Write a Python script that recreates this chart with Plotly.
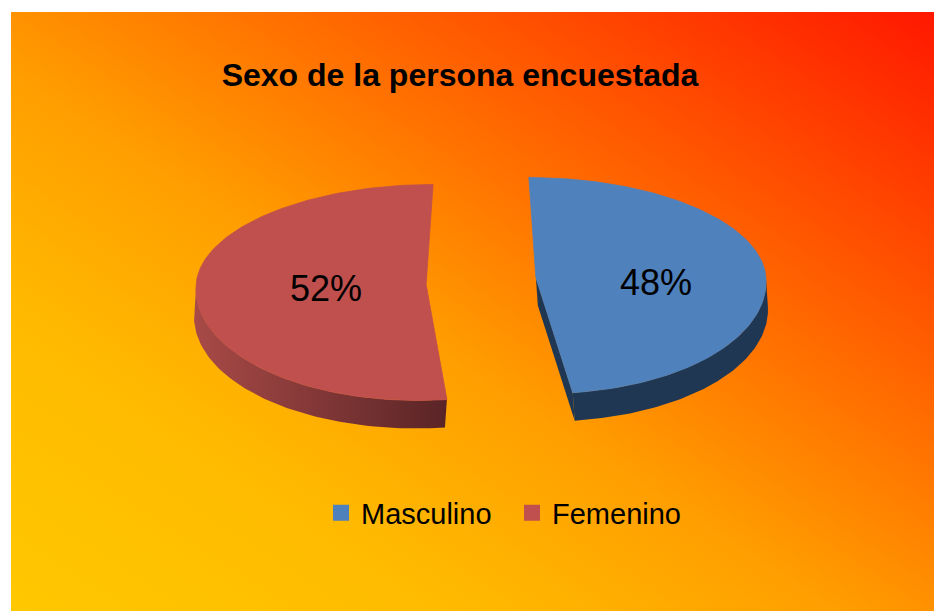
import base64
import numpy as np
import plotly.graph_objects as go

# chart data
categories = ["Masculino", "Femenino"]
shares = [48, 52]
pct_labels = ["48%", "52%"]
title_text = "Sexo de la persona encuestada"

# colours per slice
top_colors = ["#4F81BD", "#C0504D"]
side_colors = [["#1F3752", "#1F3752"], ["#A84A47", "#5A2426"]]

W, H = 934, 611
FONT = "Arial, Liberation Sans, sans-serif"

# 3d pie geometry in page pixels (y grows downwards)
cx, cy = 481, 281
rx = 230
ry_back, ry_front = 100, 116
depth = 28
pull = 55
skew_k = 0.00127
label_k, label_dx, label_dy = 0.48, 10, 8


def proj(px, py, ang):
    # angle in degrees, clockwise from 12 o'clock
    t = np.radians(ang)
    ry = np.where(np.cos(t) > 0, ry_back, ry_front)
    return px + rx * np.sin(t), py - ry * np.cos(t)


def lean(x, y, ox, oy):
    # exploded slices lean outwards a little at the front
    x = np.asarray(x, dtype=float)
    y = np.asarray(y, dtype=float)
    return x + skew_k * (ox - cx) * (y - oy)


# background gradient as an svg image
grad_svg = """<svg xmlns='http://www.w3.org/2000/svg' width='100' height='100' viewBox='0 0 100 100' preserveAspectRatio='none'>
<defs><linearGradient id='g' x1='0' y1='1' x2='1' y2='0'>
<stop offset='0' stop-color='#FFC800'/>
<stop offset='0.25' stop-color='#FFBA00'/>
<stop offset='0.45' stop-color='#FF9E00'/>
<stop offset='1' stop-color='#FF1800'/>
</linearGradient></defs>
<rect x='0' y='0' width='100' height='100' fill='url(#g)'/></svg>"""
grad_uri = "data:image/svg+xml;base64," + base64.b64encode(grad_svg.encode()).decode()

fig = go.Figure()

total = sum(shares)
starts = np.cumsum([0] + shares[:-1]) / total * 360
ends = np.cumsum(shares) / total * 360

sides = []
tops = []
texts = []
for i, (a0, a1) in enumerate(zip(starts, ends)):
    mid = (a0 + a1) / 2
    ox = cx + pull * np.sin(np.radians(mid))
    oy = cy - pull * np.cos(np.radians(mid))

    # outer rim on the front half
    r0, r1 = max(a0, 90), min(a1, 270)
    if r1 > r0:
        arc = np.linspace(r0, r1, 80)
        xs, ys = proj(ox, oy, arc)
        sy = np.concatenate([ys, ys[::-1] + depth, ys[:1]])
        sx = np.concatenate([xs, xs[::-1], xs[:1]])
        sides.append(go.Scatter(
            x=lean(sx, sy, ox, oy), y=sy, mode="lines", fill="toself",
            line=dict(width=0, color=side_colors[i][1]),
            fillgradient=dict(type="horizontal",
                              colorscale=[[0, side_colors[i][0]], [1, side_colors[i][1]]]),
            hoverinfo="skip", showlegend=False))

    # cut face at the end edge, seen when it faces the front
    if 0 < a1 < 180:
        ex, ey = proj(ox, oy, a1)
        fx = [ox, ex, ex, ox, ox]
        fy = [oy, ey, ey + depth, oy + depth, oy]
        sides.append(go.Scatter(
            x=lean(fx, fy, ox, oy), y=fy,
            mode="lines", fill="toself", fillcolor=side_colors[i][1],
            line=dict(width=0, color=side_colors[i][1]),
            hoverinfo="skip", showlegend=False))

    # top face
    arc = np.linspace(a0, a1, 160)
    xs, ys = proj(ox, oy, arc)
    tx = np.concatenate([[ox], xs, [ox]])
    ty = np.concatenate([[oy], ys, [oy]])
    tops.append(go.Scatter(
        x=lean(tx, ty, ox, oy), y=ty,
        mode="lines", fill="toself", fillcolor=top_colors[i],
        line=dict(width=0.8, color=top_colors[i]),
        hoverinfo="skip", showlegend=False))

    texts.append((ox + label_k * rx * np.sin(np.radians(mid)) + label_dx,
                  oy + label_dy, pct_labels[i]))

for tr in sides + tops:
    fig.add_trace(tr)

fig.add_trace(go.Scatter(
    x=[t[0] for t in texts], y=[t[1] for t in texts], text=[t[2] for t in texts],
    mode="text", textposition="middle center",
    textfont=dict(family=FONT, size=36, color="black"),
    hoverinfo="skip", showlegend=False))

# legend entries
for name, col in zip(categories, top_colors):
    fig.add_trace(go.Scatter(
        x=[None], y=[None], mode="markers", name=name,
        marker=dict(symbol="square", size=16, color=col)))

fig.update_layout(
    width=W, height=H,
    margin=dict(l=0, r=0, t=0, b=0),
    paper_bgcolor="white",
    plot_bgcolor="rgba(0,0,0,0)",
    title=dict(text="<b>" + title_text + "</b>", x=460 / W, y=1 - 75 / H,
               xanchor="center", yanchor="middle", xref="paper", yref="container",
               font=dict(family=FONT, size=32, color="black")),
    xaxis=dict(range=[0, W], visible=False, fixedrange=True),
    yaxis=dict(range=[H, 0], visible=False, fixedrange=True),
    legend=dict(orientation="h", x=321 / W, y=1 - 513 / H, xanchor="left", yanchor="middle",
                font=dict(family=FONT, size=29, color="black"),
                bgcolor="rgba(0,0,0,0)", entrywidth=146),
    images=[dict(source=grad_uri, xref="paper", yref="paper",
                 x=11 / W, y=1 - 12 / H, sizex=1 - 11 / W, sizey=1 - 12 / H,
                 xanchor="left", yanchor="top", sizing="stretch", layer="below")],
)

# drop the default page margin so the figure sits at the window corner
fig.write_html("out.html", config={"displayModeBar": False},
               post_script="document.body.style.margin='0';")
